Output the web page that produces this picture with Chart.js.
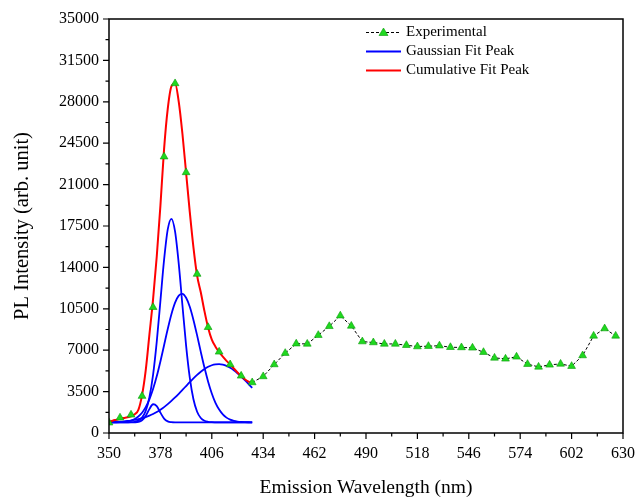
<!DOCTYPE html>
<html>
<head>
<meta charset="utf-8">
<title>PL spectrum</title>
<script src="https://cdn.jsdelivr.net/npm/chart.js"></script>
<style>
  html, body { margin: 0; padding: 0; background: #fff; }
  #wrap { width: 638px; height: 500px; }
</style>
</head>
<body>
<div id="wrap"><canvas id="plChart" width="638" height="500"></canvas></div>
<script>
// Measured spectrum, one point every 6 nm
const expWavelength = [350, 356, 362, 368, 374, 380, 386, 392, 398, 404, 410, 416, 422, 428, 434, 440,
    446, 452, 458, 464, 470, 476, 482, 488, 494, 500, 506, 512, 518, 524, 530, 536, 542, 548, 554, 560,
    566, 572, 578, 584, 590, 596, 602, 608, 614, 620, 626];
const expIntensity = [870, 1290, 1540, 3120, 10630, 23360, 29550, 22030, 13440, 8940, 6860, 5790, 4830,
    4270, 4780, 5790, 6750, 7550, 7530, 8270, 9020, 9920, 9050, 7730, 7650, 7530, 7530, 7420, 7310, 7340,
    7380, 7250, 7230, 7200, 6830, 6350, 6270, 6440, 5820, 5590, 5760, 5840, 5650, 6550, 8210, 8830, 8210];

// Fit curves, sampled every 2 nm over the UV band
const fitWavelength = [350, 352, 354, 356, 358, 360, 362, 364, 366, 368, 370, 372, 374, 376, 378, 380,
    382, 384, 386, 388, 390, 392, 394, 396, 398, 400, 402, 404, 406, 408, 410, 412, 414, 416, 418, 420,
    422, 424, 426, 428];
const cumulativeFit = [950, 1040, 1120, 1200, 1270, 1330, 1420, 1580, 1950, 3200, 5300, 8300, 11300, 14900,
    19200, 24000, 27400, 29300, 29550, 28000, 25300, 22000, 18700, 15700, 13300, 11900, 10300, 8900, 7900,
    7300, 6850, 6450, 6100, 5800, 5450, 5120, 4820, 4550, 4350, 4200];
const peak384 = [900, 900, 900, 900, 901, 904, 914, 948, 1048, 1300, 1875, 3000, 4910, 7710, 11150, 14630,
    17210, 18110, 17020, 14300, 10800, 7390, 4680, 2850, 1800, 1270, 1030, 943, 912, 903, 900, 900, 900,
    900, 900, 900, 900, 900, 900, 900];
const peak390 = [902, 904, 910, 921, 942, 984, 1058, 1186, 1394, 1714, 2186, 2847, 3715, 4790, 6050, 7420,
    8790, 10040, 11020, 11620, 11770, 11430, 10670, 9560, 8250, 6860, 5530, 4340, 3340, 2550, 1980, 1570,
    1300, 1126, 1023, 964, 932, 915, 907, 903];
const peak375 = [900, 900, 900, 900, 900, 900, 900, 905, 936, 1072, 1440, 2019, 2430, 2278, 1719, 1221,
    983, 914, 900, 900, 900, 900, 900, 900, 900, 900, 900, 900, 900, 900, 900, 900, 900, 900, 900, 900,
    900, 900, 900, 900];
const peak410 = [921, 930, 943, 960, 983, 1014, 1053, 1104, 1168, 1248, 1346, 1466, 1608, 1776, 1969, 2190,
    2437, 2710, 3004, 3316, 3641, 3972, 4302, 4619, 4916, 5182, 5412, 5597, 5728, 5803, 5818, 5773, 5669,
    5510, 5304, 5054, 4771, 4461, 4137, 3808];

const xTicks = [350, 378, 406, 434, 462, 490, 518, 546, 574, 602, 630];
const yTicks = [0, 3500, 7000, 10500, 14000, 17500, 21000, 24500, 28000, 31500, 35000];

// the dashed trace is hidden where the cumulative fit runs over it
const fitEnd = 428;

const serif = 'Liberation Serif, Times New Roman, serif';

function pairs(xs, ys) {
    return xs.map((x, i) => ({ x: x, y: ys[i] }));
}

function gaussLine(values) {
    return {
        data: pairs(fitWavelength, values),
        borderColor: '#0000ff',
        borderWidth: 1.8,
        pointRadius: 0,
        cubicInterpolationMode: 'monotone'
    };
}

// frame box plus major / minor tick marks on the bottom and left axes
const frameTicks = {
    id: 'frameTicks',
    afterDraw(chart) {
        const { ctx, chartArea: a, scales: { x, y } } = chart;
        ctx.save();
        ctx.strokeStyle = '#000';
        ctx.lineWidth = 1.5;
        ctx.strokeRect(a.left, a.top, a.right - a.left, a.bottom - a.top);
        ctx.lineWidth = 1.2;
        ctx.beginPath();
        xTicks.forEach((v, i) => {
            const px = x.getPixelForValue(v);
            ctx.moveTo(px, a.bottom);
            ctx.lineTo(px, a.bottom + 6);
            if (i < xTicks.length - 1) {
                const m = x.getPixelForValue((v + xTicks[i + 1]) / 2);
                ctx.moveTo(m, a.bottom);
                ctx.lineTo(m, a.bottom + 3.5);
            }
        });
        yTicks.forEach((v, i) => {
            const py = y.getPixelForValue(v);
            ctx.moveTo(a.left, py);
            ctx.lineTo(a.left - 6, py);
            if (i < yTicks.length - 1) {
                const m = y.getPixelForValue((v + yTicks[i + 1]) / 2);
                ctx.moveTo(a.left, m);
                ctx.lineTo(a.left - 3.5, m);
            }
        });
        ctx.stroke();
        ctx.restore();
    }
};

// legend in the upper right corner of the plot
const cornerLegend = {
    id: 'cornerLegend',
    afterDraw(chart) {
        const ctx = chart.ctx;
        const x0 = 366, x1 = 401, tx = 406;
        const rows = [
            { y: 32.5, text: 'Experimental' },
            { y: 51.5, text: 'Gaussian Fit Peak', color: '#0000ff' },
            { y: 70.5, text: 'Cumulative Fit Peak', color: '#ff0000' }
        ];
        ctx.save();
        rows.forEach((r, i) => {
            ctx.beginPath();
            if (i === 0) {
                ctx.strokeStyle = '#000';
                ctx.lineWidth = 1;
                ctx.setLineDash([3, 2]);
            } else {
                ctx.strokeStyle = r.color;
                ctx.lineWidth = 1.8;
                ctx.setLineDash([]);
            }
            ctx.moveTo(x0, r.y);
            ctx.lineTo(x1, r.y);
            ctx.stroke();
            ctx.setLineDash([]);
            if (i === 0) {
                const cx = (x0 + x1) / 2;
                ctx.beginPath();
                ctx.moveTo(cx, r.y - 4.5);
                ctx.lineTo(cx + 4.5, r.y + 3);
                ctx.lineTo(cx - 4.5, r.y + 3);
                ctx.closePath();
                ctx.fillStyle = '#1fd81f';
                ctx.fill();
                ctx.strokeStyle = '#0a9a0a';
                ctx.lineWidth = 0.6;
                ctx.stroke();
            }
            ctx.fillStyle = '#000';
            ctx.font = '15px ' + serif;
            ctx.textBaseline = 'middle';
            ctx.textAlign = 'left';
            ctx.fillText(r.text, tx, r.y);
        });
        ctx.restore();
    }
};

new Chart(document.getElementById('plChart'), {
    type: 'line',
    data: {
        datasets: [
            {
                data: pairs(expWavelength, expIntensity),
                borderColor: '#000',
                borderWidth: 1,
                borderDash: [3, 2],
                tension: 0,
                segment: {
                    borderColor: c => c.p1.parsed.x <= fitEnd ? 'rgba(0,0,0,0)' : undefined
                },
                pointStyle: 'triangle',
                pointRadius: 4.5,
                pointBackgroundColor: '#1fd81f',
                pointBorderColor: '#0a9a0a',
                pointBorderWidth: 0.6
            },
            {
                data: pairs(fitWavelength, cumulativeFit),
                borderColor: '#ff0000',
                borderWidth: 2,
                pointRadius: 0,
                cubicInterpolationMode: 'monotone'
            },
            gaussLine(peak384),
            gaussLine(peak390),
            gaussLine(peak375),
            gaussLine(peak410)
        ]
    },
    options: {
        responsive: false,
        animation: false,
        layout: { padding: { top: 19, right: 15, left: 0, bottom: 0 } },
        plugins: {
            legend: { display: false },
            tooltip: { enabled: false }
        },
        scales: {
            x: {
                type: 'linear',
                min: 350,
                max: 630,
                afterBuildTicks: axis => { axis.ticks = xTicks.map(v => ({ value: v })); },
                afterFit: axis => {
                    axis.height = 67;
                    axis.paddingLeft = 0;
                    axis.paddingRight = 0;
                },
                grid: { display: false, drawTicks: false },
                border: { display: false },
                ticks: {
                    padding: 11,
                    maxRotation: 0,
                    autoSkip: false,
                    color: '#000',
                    font: { family: serif, size: 16 }
                },
                title: {
                    display: true,
                    text: 'Emission Wavelength (nm)',
                    color: '#000',
                    font: { family: serif, size: 19.5 },
                    padding: { top: 0, bottom: 0 }
                }
            },
            y: {
                min: 0,
                max: 35000,
                afterBuildTicks: axis => { axis.ticks = yTicks.map(v => ({ value: v })); },
                afterFit: axis => {
                    axis.width = 109;
                    axis.paddingTop = 0;
                    axis.paddingBottom = 0;
                },
                grid: { display: false, drawTicks: false },
                border: { display: false },
                ticks: {
                    padding: 10,
                    autoSkip: false,
                    color: '#000',
                    font: { family: serif, size: 16 },
                    callback: v => String(v)
                },
                title: {
                    display: true,
                    text: 'PL Intensity (arb. unit)',
                    color: '#000',
                    font: { family: serif, size: 20.5 },
                    padding: { top: 10, bottom: 0 }
                }
            }
        }
    },
    plugins: [frameTicks, cornerLegend]
});
</script>
</body>
</html>
